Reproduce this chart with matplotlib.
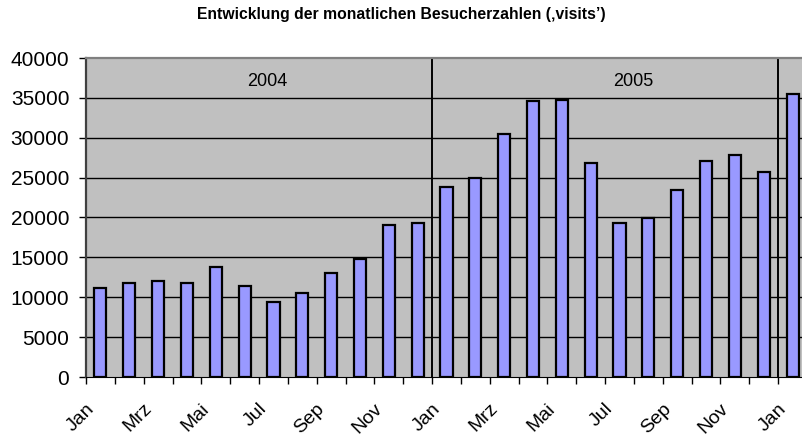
import matplotlib.pyplot as plt
import matplotlib.transforms as mtransforms
import numpy as np

#-- data --#
months = ['Jan', 'Feb', 'Mrz', 'Apr', 'Mai', 'Jun', 'Jul', 'Aug', 'Sep', 'Okt', 'Nov', 'Dez'] * 2 + ['Jan']
visits = [11200, 11750, 12000, 11830, 13830, 11450, 9400, 10500, 13000, 14800, 19060, 19270,
          23780, 24990, 30470, 34610, 34770, 26800, 19270, 19940, 23490, 27040, 27880, 25700,
          35490]
years = ['2004', '2005']
year_pos = [5.77, 18.46]
year_breaks = [11.5, 23.5]

plt.rcParams['font.family'] = ['Liberation Sans', 'DejaVu Sans']

fig = plt.figure(figsize=(8.03, 4.36), dpi=100)
ax = fig.add_axes([86 / 803, 59 / 436, 721 / 803, 319 / 436])
ax.set_facecolor('#C0C0C0')

x = np.arange(len(visits))
ax.bar(x, visits, width=0.42, color='#9999FF', edgecolor='black', linewidth=1.6, zorder=3)

# horizontal grid lines
for v in range(5000, 40000, 5000):
    ax.axhline(v, color='black', linewidth=1, zorder=1)

# year separators and labels
for b in year_breaks:
    ax.axvline(b, color='black', linewidth=1.4, zorder=2)
for label, pos in zip(years, year_pos):
    ax.text(pos, 37000, label, ha='center', va='center', fontsize=13)

ax.set_xlim(-0.5, len(visits) - 0.5)
ax.set_ylim(0, 40000)
ax.set_yticks(range(0, 40001, 5000))
ax.tick_params(axis='y', labelsize=15, length=5, width=1, direction='out', pad=7)

# ticks between categories, labels on every second month
ax.set_xticks(np.arange(-0.5, len(visits), 1))
ax.set_xticklabels([])
ax.tick_params(axis='x', which='major', length=5, width=1, direction='out')
ax.set_xticks(x[::2], minor=True)
ax.set_xticklabels([months[i] for i in x[::2]], minor=True, fontsize=14,
                   rotation=45, ha='right', va='center', rotation_mode='anchor')
ax.tick_params(axis='x', which='minor', length=0, pad=21)
shift = mtransforms.ScaledTranslation(-9 / 100, 0, fig.dpi_scale_trans)
for lbl in ax.get_xticklabels(minor=True):
    lbl.set_transform(lbl.get_transform() + shift)

for side in ['top', 'left']:
    ax.spines[side].set_color('#808080')
    ax.spines[side].set_linewidth(1.6)
ax.spines['left'].set_color('#404040')
ax.spines['bottom'].set_color('black')
ax.spines['right'].set_visible(False)

fig.text(0.5, 1 - 14 / 436, 'Entwicklung der monatlichen Besucherzahlen (\u201avisits\u2019)',
         ha='center', va='center', fontsize=11.3, fontweight='bold')

plt.savefig('out.png', dpi=100)
